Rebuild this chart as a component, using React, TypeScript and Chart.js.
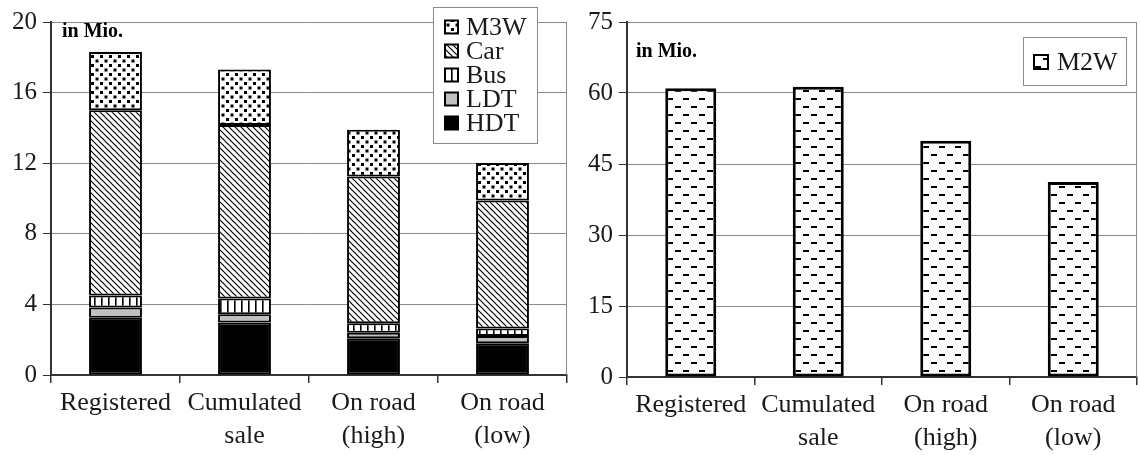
import React, { useEffect, useRef } from "react";
import { Chart, registerables } from "chart.js";

Chart.register(...registerables);

// ---------- data ----------
const categories = [["Registered"], ["Cumulated", "sale"], ["On road", "(high)"], ["On road", "(low)"]];
const hdtValues = [3.25, 2.97, 2.08, 1.8];
const ldtValues = [0.58, 0.47, 0.32, 0.41];
const busValues = [0.67, 0.89, 0.53, 0.42];
const carValues = [10.5, 9.84, 8.31, 7.25];
const m3wValues = [3.3, 3.14, 2.65, 2.13];
const m2wValues = [61.0, 61.3, 49.9, 41.2];
const leftTicks = [0, 4, 8, 12, 16, 20];
const rightTicks = [0, 15, 30, 45, 60, 75];
const unitLabel = "in Mio.";

const SERIF = "'Liberation Serif', 'Times New Roman', serif";
const TEXT = "#1a1a1a";
const GRID = "#8a8a8a";
const AXIS = "#333333";

type Ctx = CanvasRenderingContext2D;

function makePattern(ctx: Ctx, w: number, h: number, draw: (g: Ctx) => void) {
  const c = document.createElement("canvas");
  c.width = w;
  c.height = h;
  const g = c.getContext("2d") as Ctx;
  g.fillStyle = "#fff";
  g.fillRect(0, 0, w, h);
  g.fillStyle = "#000";
  g.strokeStyle = "#000";
  draw(g);
  return ctx.createPattern(c, "repeat") as CanvasPattern;
}

function dotsPattern(ctx: Ctx) {
  return makePattern(ctx, 9, 9, (g) => {
    g.fillRect(1, 1, 3, 3);
    g.fillRect(5.5, 5.5, 3, 3);
  });
}
function diagPattern(ctx: Ctx) {
  return makePattern(ctx, 6, 6, (g) => {
    g.lineWidth = 1.2;
    g.beginPath();
    g.moveTo(-1, -1);
    g.lineTo(7, 7);
    g.moveTo(-1, 5);
    g.lineTo(1, 7);
    g.moveTo(5, -1);
    g.lineTo(7, 1);
    g.stroke();
  });
}
function vertPattern(ctx: Ctx) {
  return makePattern(ctx, 7, 7, (g) => {
    g.fillRect(3, 0, 1.6, 7);
  });
}
function dashPattern(ctx: Ctx) {
  return makePattern(ctx, 16, 16, (g) => {
    g.fillRect(1, 2, 6, 2);
    g.fillRect(9, 10, 6, 2);
  });
}

type LegendBox = { x: number; y: number; w: number; h: number; sx: number; size: number; tx: number; firstY: number; pitch: number };

function overlayPlugin(box: LegendBox, unitX: number, unitY: number) {
  return {
    id: "overlay",
    beforeDatasetsDraw(chart: any) {
      const { ctx, chartArea } = chart;
      ctx.save();
      ctx.strokeStyle = GRID;
      ctx.lineWidth = 1;
      ctx.beginPath();
      ctx.moveTo(Math.round(chartArea.right) - 0.5, chartArea.top);
      ctx.lineTo(Math.round(chartArea.right) - 0.5, chartArea.bottom);
      ctx.stroke();
      ctx.restore();
    },
    afterDraw(chart: any) {
      const ctx: Ctx = chart.ctx;
      ctx.save();
      // unit label
      ctx.fillStyle = "#000";
      ctx.font = `bold 20px ${SERIF}`;
      ctx.textBaseline = "middle";
      ctx.textAlign = "left";
      ctx.fillText(unitLabel, unitX, unitY);
      // legend
      ctx.fillStyle = "#fff";
      ctx.fillRect(box.x, box.y, box.w, box.h);
      ctx.strokeStyle = GRID;
      ctx.lineWidth = 1;
      ctx.strokeRect(box.x + 0.5, box.y + 0.5, box.w, box.h);
      const ds = [...chart.data.datasets].reverse();
      ds.forEach((d: any, i: number) => {
        const cy = box.firstY + i * box.pitch;
        const s = box.size;
        ctx.fillStyle = d.backgroundColor;
        ctx.fillRect(box.sx, cy - s / 2, s, s);
        ctx.strokeStyle = "#000";
        ctx.lineWidth = 2;
        ctx.strokeRect(box.sx, cy - s / 2, s, s);
        ctx.fillStyle = TEXT;
        ctx.font = `26px ${SERIF}`;
        ctx.textBaseline = "middle";
        ctx.fillText(d.label, box.tx, cy + 1);
      });
      ctx.restore();
    },
  };
}

function scalesFor(ticks: number[], yWidth: number, xHeight: number) {
  return {
    x: {
      stacked: true,
      grid: {
        offset: true,
        drawOnChartArea: false,
        drawTicks: true,
        tickLength: 8,
        color: AXIS,
        lineWidth: 1.5,
      },
      border: { display: true, color: AXIS, width: 2 },
      ticks: {
        color: TEXT,
        font: { family: SERIF, size: 26, lineHeight: 1.27 },
        padding: 4,
        maxRotation: 0,
        autoSkip: false,
      },
      afterFit: (s: any) => {
        s.height = xHeight;
      },
    },
    y: {
      stacked: true,
      min: ticks[0],
      max: ticks[ticks.length - 1],
      afterBuildTicks: (s: any) => {
        s.ticks = ticks.map((v) => ({ value: v }));
      },
      grid: {
        color: GRID,
        lineWidth: 1,
        drawTicks: true,
        tickLength: 8,
        tickColor: AXIS,
      },
      border: { display: true, color: AXIS, width: 2 },
      ticks: {
        color: TEXT,
        font: { family: SERIF, size: 25 },
        padding: 6,
      },
      afterFit: (s: any) => {
        s.width = yWidth;
      },
    },
  };
}

export default function App() {
  const leftRef = useRef<HTMLCanvasElement>(null);
  const rightRef = useRef<HTMLCanvasElement>(null);

  useEffect(() => {
    const lc = leftRef.current!;
    const rc = rightRef.current!;
    const lctx = lc.getContext("2d") as Ctx;
    const rctx = rc.getContext("2d") as Ctx;

    const common = { borderColor: "#000", borderWidth: 2, borderSkipped: false, barPercentage: 0.41, categoryPercentage: 1 };

    const left = new Chart(lc, {
      type: "bar",
      data: {
        labels: categories,
        datasets: [
          { label: "HDT", data: hdtValues, backgroundColor: "#000", ...common },
          { label: "LDT", data: ldtValues, backgroundColor: "#c0c0c0", ...common },
          { label: "Bus", data: busValues, backgroundColor: vertPattern(lctx), ...common },
          { label: "Car", data: carValues, backgroundColor: diagPattern(lctx), ...common },
          { label: "M3W", data: m3wValues, backgroundColor: dotsPattern(lctx), ...common },
        ] as any,
      },
      options: {
        responsive: false,
        animation: false,
        layout: { padding: { top: 22, right: 3, left: 0, bottom: 0 } },
        plugins: { legend: { display: false }, tooltip: { enabled: false } },
        scales: scalesFor(leftTicks, 51, 80) as any,
      },
      plugins: [
        overlayPlugin({ x: 433, y: 7, w: 104, h: 136, sx: 445, size: 13, tx: 466, firstY: 27, pitch: 24 }, 62, 32),
      ],
    });

    const right = new Chart(rc, {
      type: "bar",
      data: {
        labels: categories,
        datasets: [
          {
            label: "M2W",
            data: m2wValues,
            backgroundColor: dashPattern(rctx),
            borderColor: "#000",
            borderWidth: 3,
            borderSkipped: false,
            barPercentage: 0.4,
            categoryPercentage: 1,
          },
        ] as any,
      },
      options: {
        responsive: false,
        animation: false,
        layout: { padding: { top: 22, right: 3, left: 0, bottom: 0 } },
        plugins: { legend: { display: false }, tooltip: { enabled: false } },
        scales: scalesFor(rightTicks, 57, 78) as any,
      },
      plugins: [
        overlayPlugin({ x: 453, y: 37, w: 103, h: 48, sx: 464, size: 14, tx: 487, firstY: 62, pitch: 24 }, 66, 52),
      ],
    });

    return () => {
      left.destroy();
      right.destroy();
    };
  }, []);

  return (
    <div style={{ position: "absolute", left: 0, top: 0, width: 1140, height: 455, background: "#fff", display: "flex" }}>
      <canvas ref={leftRef} width={570} height={455} style={{ display: "block", width: 570, height: 455 }} />
      <canvas ref={rightRef} width={570} height={455} style={{ display: "block", width: 570, height: 455 }} />
    </div>
  );
}
